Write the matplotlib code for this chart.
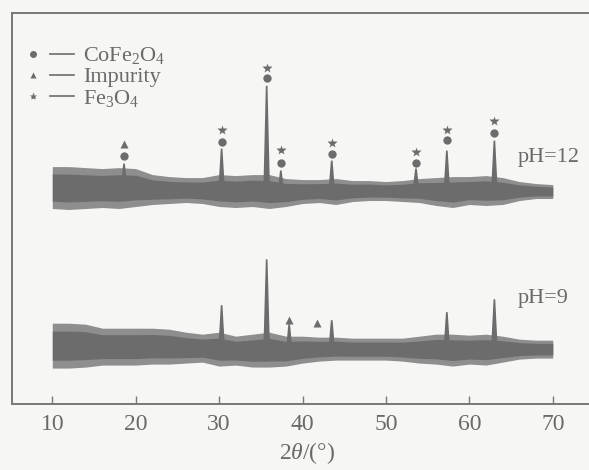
import numpy as np
import matplotlib
matplotlib.use("Agg")
import matplotlib.pyplot as plt
from matplotlib.lines import Line2D
from matplotlib.legend_handler import HandlerTuple

plt.rcParams["font.family"] = ["Liberation Serif", "DejaVu Serif"]
plt.rcParams["mathtext.fontset"] = "custom"
plt.rcParams["mathtext.rm"] = "Liberation Serif"
plt.rcParams["mathtext.it"] = "Liberation Serif:italic"

# --- data (intensity in arbitrary units) ---
two_theta = np.arange(10, 71, 2)

# noise band envelope for each pattern
upper_ph12 = [238, 238, 237, 236, 237, 236, 230, 228, 227, 227, 230, 229, 230, 230, 226, 225,
              225, 226, 224, 224, 223, 224, 226, 227, 228, 228, 229, 227, 223, 221, 220]
lower_ph12 = [196, 195, 196, 197, 196, 198, 200, 201, 202, 201, 198, 197, 198, 196, 198, 201,
              202, 200, 203, 204, 204, 203, 202, 199, 197, 200, 199, 200, 204, 206, 206]
upper_ph9 = [81, 81, 80, 76, 76, 76, 76, 75, 72, 70, 72, 68, 70, 72, 68, 68,
             67, 67, 66, 66, 66, 66, 68, 70, 70, 69, 70, 68, 65, 64, 64]
lower_ph9 = [36, 36, 37, 39, 39, 39, 40, 40, 41, 42, 38, 39, 37, 37, 38, 41,
             43, 44, 44, 44, 44, 43, 41, 40, 38, 40, 39, 42, 45, 46, 46]

# diffraction peaks
peaks_ph12 = [18.6, 30.3, 35.7, 37.4, 43.5, 53.6, 57.3, 63.0]
tops_ph12 = [241, 256, 319, 234, 244, 236, 254, 264]
peaks_ph9 = [30.3, 35.7, 38.4, 43.5, 57.3, 63.0]
tops_ph9 = [99, 145, 80, 84, 92, 105]

# phase markers
cofe_x = [18.6, 30.3, 35.7, 37.4, 43.5, 53.6, 57.3, 63.0]
cofe_y = [249, 263, 327, 242, 251, 242, 265, 272]
fe3o4_x = [30.3, 35.7, 37.4, 43.5, 53.6, 57.3, 63.0]
fe3o4_y = [275, 337, 255, 262, 253, 275, 284]
imp_x = [18.6, 38.4, 41.7]
imp_y = [261, 84, 81]

labels = ["CoFe$_2$O$_4$", "Impurity", "Fe$_3$O$_4$"]

gray = "#6c6c6c"
light = "#8e8e8e"
txt = "#6a6a6a"
bg = "#f6f6f4"

fig = plt.figure(figsize=(5.89, 4.70), dpi=100, facecolor=bg)
ax = fig.add_axes([12 / 589, 66 / 470, 590 / 589, 391 / 470], facecolor=bg)

for up, lo, pk, tp in [(upper_ph12, lower_ph12, peaks_ph12, tops_ph12),
                       (upper_ph9, lower_ph9, peaks_ph9, tops_ph9)]:
    up = np.array(up)
    lo = np.array(lo)
    mid = (up + lo) / 2
    half = (up - lo) / 2
    # lighter fringe of the noise, then the dense core
    ax.fill_between(two_theta, lo, up, color=light, lw=0)
    ax.fill_between(two_theta, mid - 0.65 * half, mid + 0.65 * half, color=gray, lw=0)
    base = np.interp(pk, two_theta, mid)
    for p, b, t in zip(pk, base, tp):
        ax.fill([p - 0.3, p, p + 0.3], [b, t, b], color=gray, lw=1.2)

ax.plot(cofe_x, cofe_y, "o", color=gray, ms=6, mec="none")
ax.plot(fe3o4_x, fe3o4_y, "*", color=gray, ms=7, mec="none")
ax.plot(imp_x, imp_y, "^", color=gray, ms=6, mec="none")

ax.text(65.8, 247, "pH=12", color=txt, fontsize=16, va="center", ha="left")
ax.text(65.8, 106, "pH=9", color=txt, fontsize=16, va="center", ha="left")

mk = dict(color=gray, ls="none", mec="none")
ln = dict(color=gray, lw=1.2)
handles = [(Line2D([], [], marker="o", ms=5, **mk), Line2D([], [], **ln)),
           (Line2D([], [], marker="^", ms=5, **mk), Line2D([], [], **ln)),
           (Line2D([], [], marker="*", ms=6, **mk), Line2D([], [], **ln))]
leg = ax.legend(handles, labels, handler_map={tuple: HandlerTuple(ndivide=None, pad=0.2)},
                loc="upper left", bbox_to_anchor=(0.0, 0.94), frameon=False,
                fontsize=16, handlelength=2.4, handletextpad=0.4, labelspacing=0.02,
                borderaxespad=0)
for t in leg.get_texts():
    t.set_color(txt)

ax.set_xlim(5.17, 75.9)
ax.set_ylim(0, 392)
ax.set_xticks([10, 20, 30, 40, 50, 60, 70])
ax.set_yticks([])
ax.tick_params(axis="x", direction="in", length=6, width=1, color="#777777",
               labelsize=17, labelcolor=txt, pad=7)
ax.set_xlabel("$\\mathit{2\\theta}$/(°)", fontsize=17, color=txt, labelpad=4)
for s in ["left", "top", "bottom"]:
    ax.spines[s].set_color("#777777")
    ax.spines[s].set_linewidth(1.4)
ax.spines["right"].set_visible(False)

fig.savefig("out.png", dpi=100, facecolor=bg)
